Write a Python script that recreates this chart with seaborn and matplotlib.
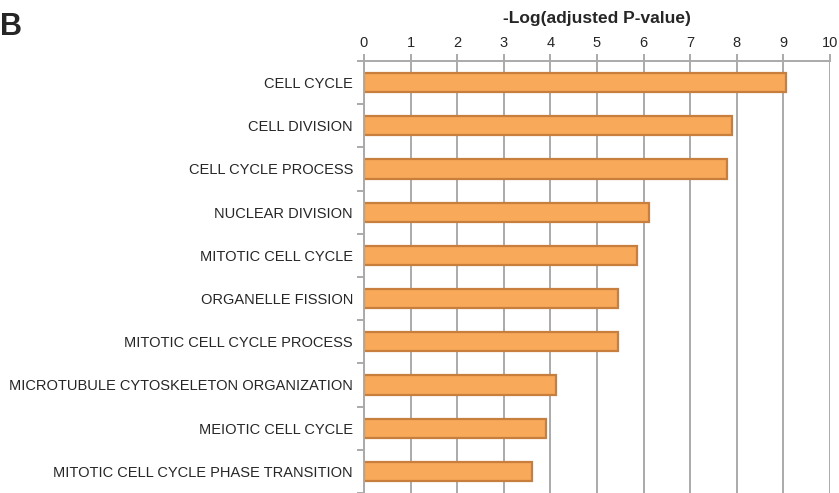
import numpy as np
import pandas as pd
import seaborn as sb
import matplotlib
matplotlib.use('Agg')
import matplotlib.pyplot as plt
from matplotlib.ticker import FixedLocator

terms = ['CELL CYCLE', 'CELL DIVISION', 'CELL CYCLE PROCESS', 'NUCLEAR DIVISION',
         'MITOTIC CELL CYCLE', 'ORGANELLE FISSION', 'MITOTIC CELL CYCLE PROCESS',
         'MICROTUBULE CYTOSKELETON ORGANIZATION', 'MEIOTIC CELL CYCLE',
         'MITOTIC CELL CYCLE PHASE TRANSITION']
neg_log_p = [9.06, 7.89, 7.78, 6.12, 5.85, 5.46, 5.46, 4.12, 3.90, 3.61]
x_ticks = [0, 1, 2, 3, 4, 5, 6, 7, 8, 9, 10]

df = pd.DataFrame({'term': terms, 'value': neg_log_p})

sb.set_style('white')
plt.rcParams['font.family'] = ['Liberation Sans', 'DejaVu Sans']

fig = plt.figure(figsize=(8.39, 4.93), dpi=100)
ax = fig.add_axes([364/839, 0.0, 466/839, 1 - 61/493])

grid_c = '#AAAAAA'
ax.set_axisbelow(True)
for t in x_ticks:
    ax.axvline(t, color=grid_c, lw=1.4, zorder=0)

sb.barplot(data=df, x='value', y='term', orient='h', color='#F8A95A',
           edgecolor='#C87E3C', linewidth=1.6, width=0.44, saturation=1, ax=ax)

ax.set_xlim(0, 10)
ax.set_ylim(9.5, -0.5)
ax.xaxis.tick_top()
ax.xaxis.set_label_position('top')
ax.set_xticks(x_ticks)
ax.set_xlabel('-Log(adjusted P-value)', fontsize=12.5, fontweight='bold', labelpad=9)
ax.set_ylabel('')
ax.tick_params(axis='x', which='major', direction='out', length=5, width=1.4,
               color=grid_c, labelsize=10.5, pad=3)
ax.tick_params(axis='y', which='major', length=0, labelsize=10.5, pad=8)
ax.yaxis.set_minor_locator(FixedLocator(np.arange(-0.5, 10, 1)))
ax.tick_params(axis='y', which='minor', direction='out', length=5, width=1.4,
               color=grid_c, left=True)

for s in ['bottom', 'right']:
    ax.spines[s].set_visible(False)
for s in ['top', 'left']:
    ax.spines[s].set_color(grid_c)
    ax.spines[s].set_linewidth(1.4)

fig.text(0.0, 0.975, 'B', fontsize=22, fontweight='bold', va='top', ha='left')

fig.savefig('out.png', dpi=100)
